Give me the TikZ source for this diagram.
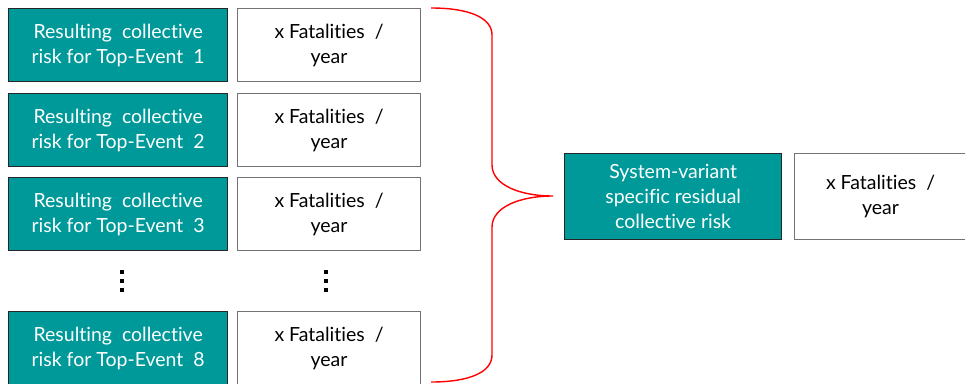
\documentclass[tikz,border=0pt]{standalone}
\usepackage{fontspec}
\setmainfont{Lato}[Ligatures={NoCommon}]
\definecolor{teal1}{RGB}{0,153,153}
\begin{document}
\begin{tikzpicture}[x=1pt,y=-1pt,
  tealbox/.style={draw=black!85,line width=1.3pt,fill=teal1,text=white,inner sep=0pt,
    align=center,font=\fontsize{19.5}{25}\selectfont},
  valbox/.style={draw=black!55,line width=1.1pt,fill=white,text=black,inner sep=0pt,
    align=center,font=\fontsize{19.5}{25}\selectfont},
  dotsq/.style={fill=black,inner sep=0pt,minimum size=4pt}]
\useasboundingbox (0,0) rectangle (965,383);
\foreach \n/\y/\t in {1/8/1,2/93/2,3/177/3,8/311/8}{
  \node[tealbox,minimum width=219pt,minimum height=73pt,anchor=north west] (r\n) at (8,\y)
    {Resulting\ \ collective\\risk for Top-Event\ \ \t};
  \node[valbox,minimum width=183pt,minimum height=73pt,anchor=north west] (v\n) at (237,\y)
    {x Fatalities\ \ /\\year};
}
\foreach \x/\k in {122/a,326/b}{
  \node[dotsq] (\k1) at (\x,272) {};
  \node[dotsq] (\k2) at (\x,281) {};
  \node[dotsq] (\k3) at (\x,290) {};
}
\node[tealbox,minimum width=217pt,minimum height=86pt,anchor=north west] (sys) at (564,153)
  {System-variant\\specific residual\\collective risk};
\node[valbox,minimum width=172pt,minimum height=86pt,anchor=north west] (sysv) at (794,153)
  {x Fatalities\ \ /\\year};
\coordinate (bt) at (431,8);
\coordinate (bb) at (431,382);
\coordinate (tip) at (553,196);
\draw[red,line width=1.4pt] (bt) .. controls (470,8) and (492,18) .. (492,35)
  -- (492,165) .. controls (492,185) and (520,196) .. (tip)
  .. controls (520,196) and (492,207) .. (492,227)
  -- (492,355) .. controls (492,372) and (470,382) .. (bb);
\end{tikzpicture}
\end{document}
